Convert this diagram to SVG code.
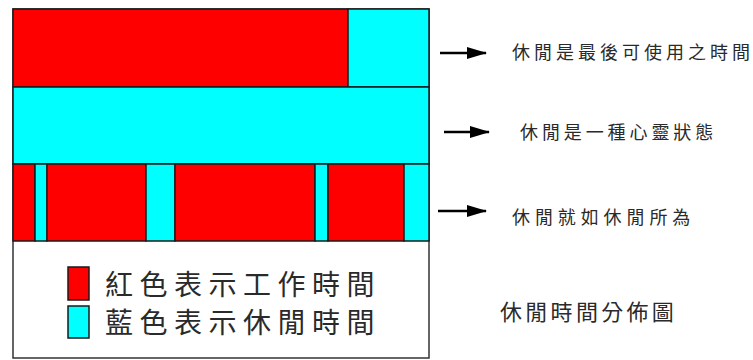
<svg xmlns="http://www.w3.org/2000/svg" width="753" height="360" viewBox="0 0 753 360">
<style>
.r{fill:#ff0000;stroke:#1a1a1a;stroke-width:1.5}
.c{fill:#00ffff;stroke:#1a1a1a;stroke-width:1.5}
.t{font-family:"Noto Sans CJK TC","Noto Sans CJK SC",sans-serif;fill:#2a2a2a}
.a{stroke:#000;stroke-width:2.5;fill:none}
</style>
<defs>
<marker id="ah" viewBox="0 0 20 12" refX="19" refY="6" markerWidth="20" markerHeight="12" markerUnits="userSpaceOnUse" orient="auto">
<path d="M0,0 L20,6 L0,12 Z" fill="#000"/>
</marker>
</defs>
<rect width="753" height="360" fill="#fff"/>
<g id="frame"><rect x="13" y="9" width="416" height="349" fill="#fff" stroke="#333" stroke-width="1.5"/></g>
<g id="row1">
<rect class="r" x="13" y="9" width="335" height="78"/>
<rect class="c" x="348" y="9" width="81" height="78"/>
</g>
<g id="row2">
<rect class="c" x="13" y="87" width="416" height="77"/>
</g>
<g id="row3">
<rect class="r" x="13" y="164" width="22" height="77"/>
<rect class="c" x="35" y="164" width="12" height="77"/>
<rect class="r" x="47" y="164" width="99" height="77"/>
<rect class="c" x="146" y="164" width="29" height="77"/>
<rect class="r" x="175" y="164" width="140" height="77"/>
<rect class="c" x="315" y="164" width="13" height="77"/>
<rect class="r" x="328" y="164" width="76" height="77"/>
<rect class="c" x="404" y="164" width="25" height="77"/>
</g>
<g id="legend">
<rect class="r" x="68" y="267" width="21" height="33"/>
<rect class="c" x="68" y="306" width="21" height="32"/>
<text class="t" x="105" y="295" font-size="28" letter-spacing="6.5">紅色表示工作時間</text>
<text class="t" x="105" y="333" font-size="28" letter-spacing="6.5">藍色表示休閒時間</text>
</g>
<g id="connectors">
<line class="a" x1="440" y1="53" x2="486" y2="53" marker-end="url(#ah)"/>
<line class="a" x1="444" y1="132" x2="489" y2="132" marker-end="url(#ah)"/>
<line class="a" x1="438" y1="211" x2="486" y2="211" marker-end="url(#ah)"/>
</g>
<g id="label1"><text class="t" x="512" y="59" font-size="18" letter-spacing="4">休閒是最後可使用之時間</text></g>
<g id="label2"><text class="t" x="520" y="139" font-size="18" letter-spacing="3.9">休閒是一種心靈狀態</text></g>
<g id="label3"><text class="t" x="512" y="224" font-size="18" letter-spacing="4.9">休閒就如休閒所為</text></g>
<g id="title"><text class="t" x="500" y="320" font-size="22" letter-spacing="3.3">休閒時間分佈圖</text></g>
</svg>
